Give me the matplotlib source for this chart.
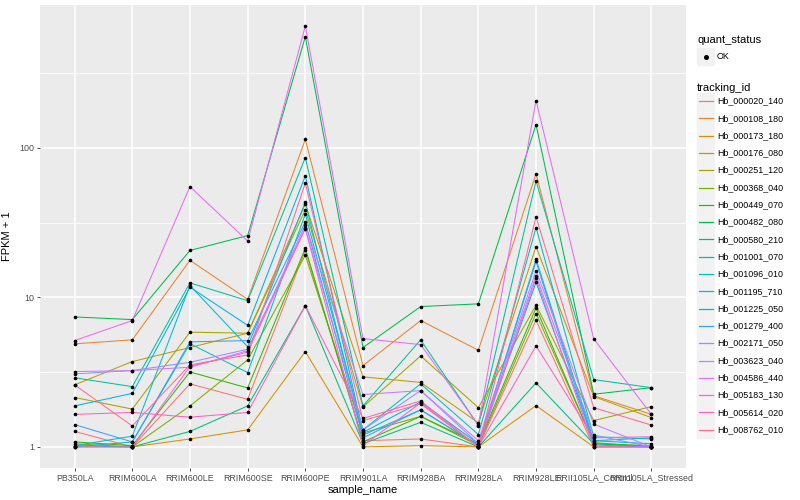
import matplotlib
matplotlib.use('Agg')
import matplotlib.pyplot as plt
from matplotlib.patches import Rectangle
import numpy as np

plt.rcParams['font.family'] = ['Liberation Sans', 'DejaVu Sans']

samples = ['PB350LA', 'RRIM600LA', 'RRIM600LE', 'RRIM600SE', 'RRIM600PE',
           'RRIM901LA', 'RRIM928BA', 'RRIM928LA', 'RRIM928LE',
           'RRII105LA_Control', 'RRII105LA_Stressed']

tracking_ids = ['Hb_000020_140', 'Hb_000108_180', 'Hb_000173_180', 'Hb_000176_080',
                'Hb_000251_120', 'Hb_000368_040', 'Hb_000449_070', 'Hb_000482_080',
                'Hb_000580_210', 'Hb_001001_070', 'Hb_001096_010', 'Hb_001195_710',
                'Hb_001225_050', 'Hb_001279_400', 'Hb_002171_050', 'Hb_003623_040',
                'Hb_004586_440', 'Hb_005183_130', 'Hb_005614_020', 'Hb_008762_010']

# ggplot hue palette, 20 levels
colors = ['#F8766D', '#EA8331', '#D89000', '#C09B00', '#A3A500', '#7CAE00',
          '#39B600', '#00BB4E', '#00BF7D', '#00C1A3', '#00BFC4', '#00BAE0',
          '#00B0F6', '#35A2FF', '#9590FF', '#C77CFF', '#E76BF3', '#FA62DB',
          '#FF62BC', '#FF6C91']

# FPKM + 1 per tracking_id, in sample order
fpkm = [
    [1.27, 1.00, 2.64, 2.08, 20.7, 1.10, 1.13, 1.00, 7.03, 1.00, 1.00],
    [4.89, 5.20, 17.7, 9.70, 114, 3.50, 7.00, 4.43, 67.0, 2.20, 1.65],
    [1.00, 1.00, 1.13, 1.30, 4.34, 1.00, 1.02, 1.00, 1.89, 1.00, 1.00],
    [2.60, 3.72, 4.62, 5.76, 42.0, 2.94, 2.70, 1.45, 21.8, 2.17, 1.57],
    [2.14, 1.79, 5.85, 5.76, 38.5, 1.85, 4.06, 1.83, 8.87, 1.50, 1.86],
    [1.05, 1.00, 1.88, 3.82, 19.1, 1.24, 1.60, 1.02, 7.80, 1.07, 1.00],
    [1.08, 1.02, 3.17, 2.48, 21.3, 1.08, 1.60, 1.05, 8.50, 1.05, 1.02],
    [7.40, 7.10, 20.6, 25.9, 553, 4.62, 8.68, 9.05, 143, 2.25, 2.49],
    [1.02, 1.00, 1.27, 1.88, 8.80, 1.05, 1.46, 1.00, 2.68, 1.05, 1.00],
    [2.90, 2.53, 12.5, 9.50, 86.0, 1.88, 5.20, 1.39, 60.0, 2.82, 2.49],
    [1.00, 1.08, 4.90, 3.14, 36.0, 1.30, 2.64, 1.21, 29.3, 1.17, 1.13],
    [1.02, 1.18, 12.0, 4.68, 43.3, 1.20, 1.77, 1.02, 18.0, 1.10, 1.15],
    [1.88, 2.28, 11.7, 6.50, 65.0, 1.25, 2.00, 1.05, 12.6, 1.10, 1.05],
    [1.41, 1.08, 5.04, 5.14, 32.0, 1.15, 1.77, 1.02, 17.4, 1.03, 1.00],
    [3.08, 3.24, 3.68, 4.50, 29.0, 1.30, 2.38, 1.05, 14.0, 1.20, 1.00],
    [3.19, 3.24, 3.41, 4.40, 30.5, 2.24, 2.38, 1.10, 15.1, 1.42, 1.00],
    [5.14, 7.00, 55.0, 23.8, 652, 5.30, 4.83, 1.40, 207, 5.28, 1.65],
    [1.00, 1.00, 3.45, 4.30, 28.8, 1.02, 1.97, 1.00, 13.4, 1.00, 1.00],
    [1.65, 1.70, 1.58, 1.70, 8.80, 1.55, 2.03, 1.00, 4.74, 1.15, 1.17],
    [2.60, 1.38, 3.54, 4.12, 58.0, 1.50, 1.94, 1.00, 34.5, 1.83, 1.40],
]

fig = plt.figure(figsize=(8, 5), dpi=100)
ax = fig.add_axes([40 / 800, 1 - 468 / 500, 646 / 800, 463 / 500])
ax.set_facecolor('#EBEBEB')

x = np.arange(len(samples))
for vals, col in zip(fpkm, colors):
    ax.plot(x, vals, color=col, lw=0.75, zorder=3)
for vals in fpkm:
    ax.plot(x, vals, 'o', color='black', ms=2.6, mew=0, zorder=4)

ax.set_yscale('log')
ax.set_ylim(10 ** -0.141, 10 ** 2.955)
ax.set_xlim(-0.6, len(samples) - 0.4)
ax.set_yticks([1, 10, 100])
ax.set_yticklabels(['1', '10', '100'])
ax.set_yticks([10 ** 0.5, 10 ** 1.5, 10 ** 2.5], minor=True)
ax.yaxis.set_minor_formatter(plt.NullFormatter())
ax.set_xticks(x)
ax.set_xticklabels(samples)

ax.grid(which='major', color='white', lw=1.1)
ax.grid(which='minor', axis='y', color='white', lw=0.55)
ax.set_axisbelow(True)
for s in ax.spines.values():
    s.set_visible(False)
ax.tick_params(which='major', length=2.0, width=0.6, color='#333333',
               labelsize=6.4, labelcolor='#4D4D4D', pad=2)
ax.tick_params(which='minor', length=0)

ax.set_xlabel('sample_name', fontsize=8, labelpad=2)
ax.set_ylabel('FPKM + 1', fontsize=8, labelpad=5)

# legend drawn in pixel coordinates
lg = fig.add_axes([690 / 800, 0, 110 / 800, 1])
lg.set_xlim(690, 800)
lg.set_ylim(500, 0)
lg.axis('off')

lg.text(697, 40, 'quant_status', fontsize=8, va='center')
lg.add_patch(Rectangle((697, 48), 17, 17, color='#F2F2F2'))
lg.plot([705.5], [56.5], 'o', color='black', ms=2.6)
lg.text(717, 56.5, 'OK', fontsize=6.4, va='center')

lg.text(697, 88, 'tracking_id', fontsize=8, va='center')
for i, (tid, col) in enumerate(zip(tracking_ids, colors)):
    yc = 101 + i * 17.3
    lg.add_patch(Rectangle((697, yc - 8.3), 17, 16.6, color='#F2F2F2'))
    lg.plot([698.5, 712.5], [yc, yc], color=col, lw=0.9)
    lg.text(717, yc, tid, fontsize=6.4, va='center')

fig.savefig('out.png', dpi=100)
